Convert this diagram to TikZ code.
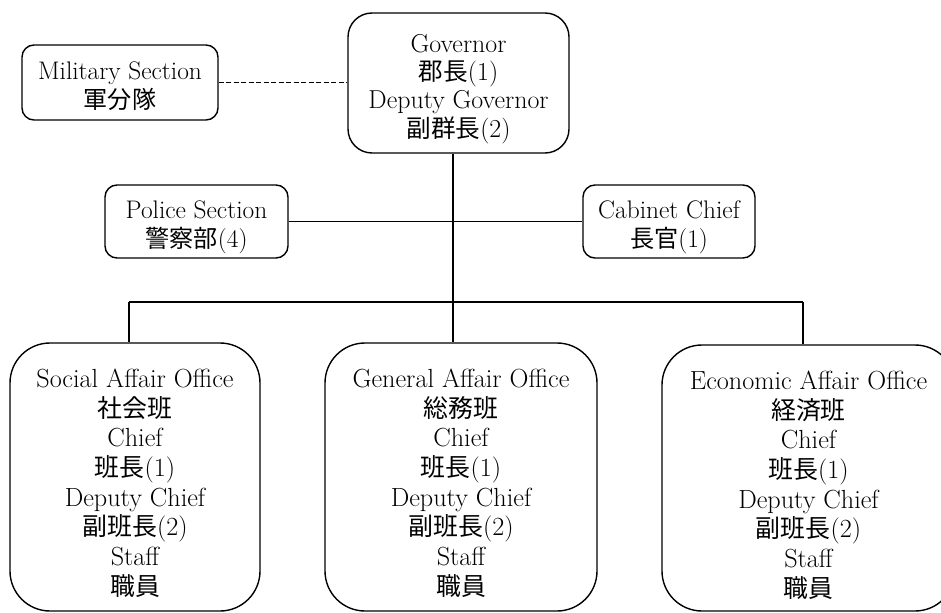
\documentclass[tikz,border=0pt]{standalone}
\usepackage{fontspec}
\newfontfamily\cjk{Noto Sans CJK JP}[Scale=0.95]
\begin{document}
\begin{tikzpicture}[x=1bp,y=-1bp,
  frame/.style={draw, line width=1.4bp, inner sep=0pt, rectangle},
  smallbox/.style={frame, rounded corners=12bp},
  govbox/.style={frame, rounded corners=24bp},
  officebox/.style={frame, rounded corners=40bp},
  label/.style={align=center, inner sep=0pt},
  smalltext/.style={label, font=\fontsize{25.5}{29}\selectfont},
  govtext/.style={label, font=\fontsize{26}{28.3}\selectfont},
  officetext/.style={label, font=\fontsize{26.3}{29.8}\selectfont},
  link/.style={line width=1.4bp},
  dashlink/.style={line width=1.4bp, dash pattern=on 5bp off 2.5bp}]
\useasboundingbox (0,0) rectangle (941,613);
\clip (0,0) rectangle (941,613);
% frames
\node[smallbox, minimum width=196bp, minimum height=75bp] (mil) at (120,82.5) {};
\node[govbox, minimum width=221bp, minimum height=140bp] (gov) at (458.5,83) {};
\node[smallbox, minimum width=183bp, minimum height=73bp] (pol) at (196.5,221.5) {};
\node[smallbox, minimum width=172bp, minimum height=73bp] (cab) at (669,221.5) {};
\node[officebox, minimum width=250bp, minimum height=268bp] (soc) at (135,477) {};
\node[officebox, minimum width=272bp, minimum height=268bp] (gen) at (461,477) {};
\node[officebox, minimum width=293bp, minimum height=266bp] (eco) at (808.5,478) {};
% texts
\node[smalltext] (milT) at ([yshift=-4bp]mil.center) {Military Section\\{\cjk 軍分隊}};
\node[govtext] (govT) at ([yshift=-6bp]gov.center)
  {Governor\\{\cjk 郡長}(1)\\Deputy Governor\\{\cjk 副群長}(2)};
\node[smalltext] (polT) at ([yshift=-6bp]pol.center) {Police Section\\{\cjk 警察部}(4)};
\node[smalltext] (cabT) at ([yshift=-6bp]cab.center) {Cabinet Chief\\{\cjk 長官}(1)};
\node[officetext] (socT) at ([yshift=-6bp]soc.center)
  {Social Affair Office\\{\cjk 社会班}\\Chief\\{\cjk 班長}(1)\\Deputy Chief\\{\cjk 副班長}(2)\\Staff\\{\cjk 職員}};
\node[officetext] (genT) at ([yshift=-6bp]gen.center)
  {General Affair Office\\{\cjk 総務班}\\Chief\\{\cjk 班長}(1)\\Deputy Chief\\{\cjk 副班長}(2)\\Staff\\{\cjk 職員}};
\node[officetext] (ecoT) at ([yshift=-7bp]eco.center)
  {Economic Affair Office\\{\cjk 経済班}\\Chief\\{\cjk 班長}(1)\\Deputy Chief\\{\cjk 副班長}(2)\\Staff\\{\cjk 職員}};
% connectors
\coordinate (bus) at (453,302);
\coordinate (busl) at (129,302);
\coordinate (busr) at (803,302);
\draw[dashlink] (mil.east) -- (mil.east -| gov.west);
\draw[link] (bus |- gov.south) -- (bus);
\draw[link] (pol.east) -- (cab.west);
\draw[link] (busl) -- (busr);
\draw[link] (busl) -- (busl |- soc.north);
\draw[link] (bus) -- (bus |- gen.north);
\draw[link] (busr) -- (busr |- eco.north);
\end{tikzpicture}
\end{document}
